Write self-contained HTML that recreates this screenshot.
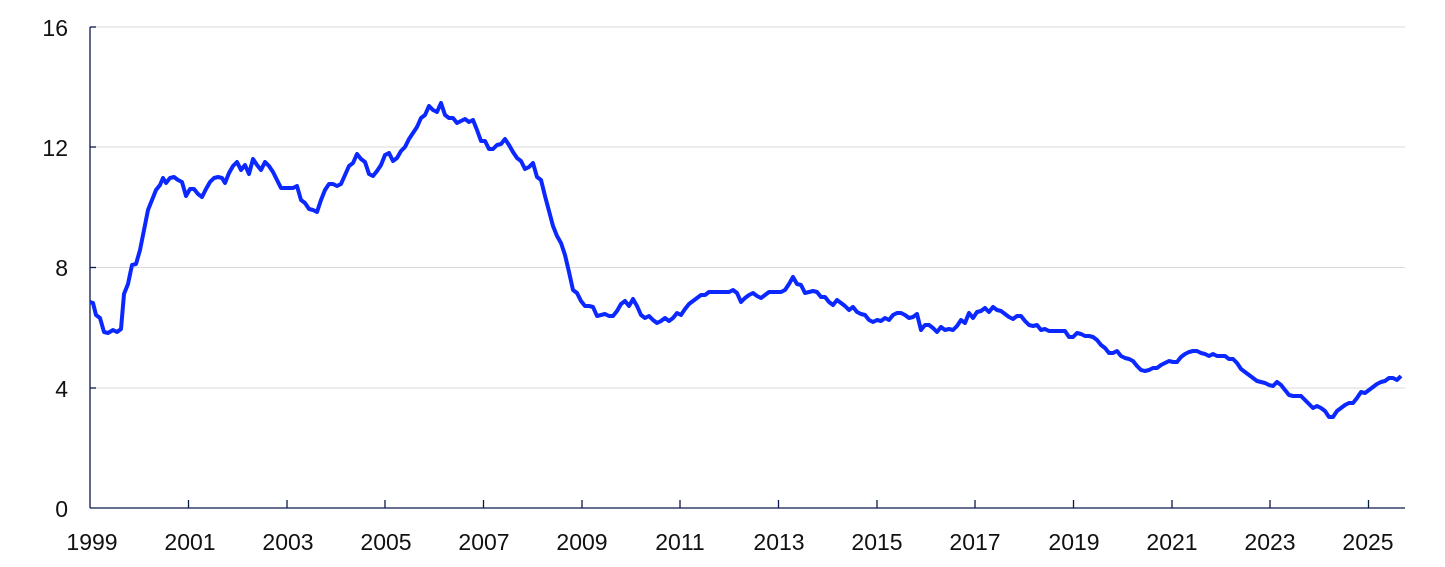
<!DOCTYPE html>
<html><head><meta charset="utf-8"><style>
html,body{margin:0;padding:0;background:#fff;}
svg{display:block;font-family:"Liberation Sans",sans-serif;}
</style></head><body>
<svg width="1445" height="567" viewBox="0 0 1445 567">
<g stroke="#d9d9d9" stroke-width="1">
<line x1="90" y1="27" x2="1405" y2="27"/>
<line x1="90" y1="147" x2="1405" y2="147"/>
<line x1="90" y1="267.5" x2="1405" y2="267.5"/>
<line x1="90" y1="388" x2="1405" y2="388"/>
</g>
<g stroke="#0a1a4a" stroke-width="1.3">
<line x1="90" y1="27" x2="90" y2="508"/>
<line x1="90" y1="508" x2="1405" y2="508"/>
<line x1="90" y1="27" x2="96" y2="27"/>
<line x1="90" y1="147" x2="96" y2="147"/>
<line x1="90" y1="267.5" x2="96" y2="267.5"/>
<line x1="90" y1="388" x2="96" y2="388"/>
<line x1="188.5" y1="500" x2="188.5" y2="508"/>
<line x1="287" y1="500" x2="287" y2="508"/>
<line x1="385" y1="500" x2="385" y2="508"/>
<line x1="483.5" y1="500" x2="483.5" y2="508"/>
<line x1="582" y1="500" x2="582" y2="508"/>
<line x1="680" y1="500" x2="680" y2="508"/>
<line x1="778.5" y1="500" x2="778.5" y2="508"/>
<line x1="877" y1="500" x2="877" y2="508"/>
<line x1="975" y1="500" x2="975" y2="508"/>
<line x1="1073.5" y1="500" x2="1073.5" y2="508"/>
<line x1="1172" y1="500" x2="1172" y2="508"/>
<line x1="1270" y1="500" x2="1270" y2="508"/>
<line x1="1368.5" y1="500" x2="1368.5" y2="508"/>
</g>
<g font-size="23" fill="#111" text-anchor="end">
<text x="68" y="36">16</text>
<text x="68" y="156">12</text>
<text x="68" y="276">8</text>
<text x="68" y="397">4</text>
<text x="68" y="517">0</text>
</g>
<g font-size="23" fill="#111" text-anchor="middle">
<text x="92" y="550">1999</text>
<text x="190" y="550">2001</text>
<text x="288" y="550">2003</text>
<text x="386" y="550">2005</text>
<text x="484" y="550">2007</text>
<text x="582" y="550">2009</text>
<text x="680" y="550">2011</text>
<text x="779" y="550">2013</text>
<text x="877" y="550">2015</text>
<text x="975" y="550">2017</text>
<text x="1074" y="550">2019</text>
<text x="1172" y="550">2021</text>
<text x="1270" y="550">2023</text>
<text x="1368" y="550">2025</text>
</g>
<polyline fill="none" stroke="#0a28ff" stroke-width="4" stroke-linejoin="round" points="90,302 93,303 96,315 100,318 104,332 108,333 113,330 117,332 121,329 124,294 128,284 132,265 136,264 140,250 144,230 148,210 152,200 156,190 160,185 163,178 166,183 170,178 174,177 178,180 182,182 186,196 190,189 194,189 198,194 202,197 206,189 210,182 214,178 218,177 222,178 225,183 229,173 233,166 237,162 241,170 245,165 249,174 253,159 257,165 261,170 265,162 269,166 273,172 277,180 281,188 285,188 289,188 293,188 297,186 301,200 305,203 309,209 313,210 317,212 321,200 325,190 329,184 333,184 337,186 341,184 345,175 349,166 353,163 357,154 361,159 365,162 369,174 373,176 377,171 381,165 385,155 389,153 393,161 397,158 401,151 405,147 409,139 413,133 417,127 421,118 425,115 429,106 433,110 437,112 441,103 445,115 449,118 453,118 457,123 461,121 465,119 469,122 473,120 477,130 481,141 485,141 489,149 493,149 497,145 501,144 505,139 509,145 513,152 517,158 521,161 525,169 529,167 533,163 537,177 541,180 545,196 549,211 553,226 557,236 561,243 565,255 569,272 573,290 577,293 581,301 585,306 589,306 593,307 597,316 601,315 605,314 609,316 613,316 617,311 621,304 625,301 629,306 633,299 637,306 641,315 645,318 649,316 653,320 657,323 661,321 665,318 669,321 673,318 677,313 681,315 685,309 689,304 693,301 697,298 701,295 705,295 709,292 713,292 717,292 721,292 725,292 729,292 733,290 737,293 741,302 745,298 749,295 753,293 757,296 761,298 765,295 769,292 773,292 777,292 781,292 785,290 789,284 793,277 797,284 801,285 805,293 809,292 813,291 817,292 821,297 825,297 829,302 833,305 837,300 841,303 845,306 849,310 853,307 857,312 861,314 865,315 869,320 873,322 877,320 881,321 885,318 889,320 893,315 897,313 901,313 905,315 909,318 913,317 917,314 921,330 925,325 929,325 933,328 937,332 941,327 945,330 949,329 953,330 957,326 961,320 965,323 969,313 973,318 977,312 981,311 985,308 989,312 993,307 997,310 1001,311 1005,314 1009,317 1013,319 1017,316 1021,316 1025,321 1029,325 1033,326 1037,325 1041,330 1045,329 1049,331 1053,331 1057,331 1061,331 1065,331 1069,337 1073,337 1077,333 1081,334 1085,336 1089,336 1093,337 1097,340 1101,345 1105,348 1109,353 1113,353 1117,351 1121,356 1125,358 1129,359 1133,361 1137,366 1141,370 1145,371 1149,370 1153,368 1157,368 1161,365 1165,363 1169,361 1173,362 1177,362 1181,357 1185,354 1189,352 1193,351 1197,351 1201,353 1205,354 1209,356 1213,354 1217,356 1221,356 1225,356 1229,359 1233,359 1237,363 1241,369 1245,372 1249,375 1253,378 1257,381 1261,382 1265,383 1269,385 1273,386 1277,382 1281,385 1285,390 1289,395 1293,396 1297,396 1301,396 1305,400 1309,404 1313,408 1317,406 1321,408 1325,411 1329,417 1333,417 1337,411 1341,408 1345,405 1349,403 1353,403 1357,398 1361,392 1365,393 1369,390 1373,387 1377,384 1381,382 1385,381 1389,378 1393,378 1397,380 1401,376"/>
</svg>
</body></html>
